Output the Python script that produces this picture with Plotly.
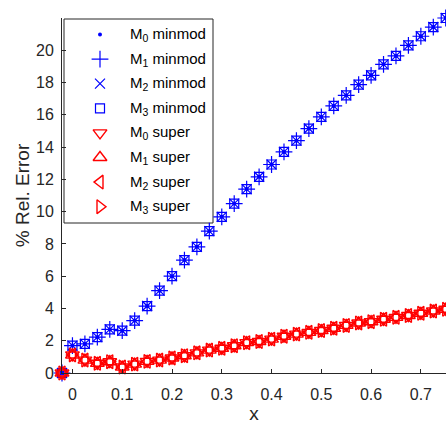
import plotly.graph_objects as go

# Sample locations (first sample sits just left of x = 0)
x_vals = [-0.021] + [0.025 * i for i in range(31)]

# Percent relative error, minmod limiter (all four methods coincide)
err_minmod = [0.0, 1.70, 1.80, 2.22, 2.70, 2.62, 3.25, 4.15, 5.10, 6.00, 7.00,
              7.82, 8.79, 9.68, 10.50, 11.40, 12.16, 12.92, 13.70, 14.40, 15.15,
              15.87, 16.55, 17.20, 17.87, 18.45, 19.13, 19.65, 20.30, 20.87,
              21.44, 22.00]

# Percent relative error, superbee limiter (all four methods coincide)
err_super = [0.0, 1.12, 0.80, 0.60, 0.70, 0.37, 0.55, 0.72, 0.80, 0.93, 1.07,
             1.25, 1.42, 1.53, 1.69, 1.88, 1.95, 2.10, 2.28, 2.41, 2.52,
             2.63, 2.77, 2.95, 3.10, 3.18, 3.33, 3.45, 3.56, 3.70, 3.84, 3.95]

methods = ["M<sub>0</sub>", "M<sub>1</sub>", "M<sub>2</sub>", "M<sub>3</sub>"]
minmod_series = [err_minmod, err_minmod, err_minmod, err_minmod]
super_series = [err_super, err_super, err_super, err_super]

x_ticks = [0, 0.1, 0.2, 0.3, 0.4, 0.5, 0.6, 0.7]
x_tick_text = ["0", "0.1", "0.2", "0.3", "0.4", "0.5", "0.6", "0.7"]
y_ticks = list(range(0, 21, 2))

BLUE = "#0000ff"
RED = "#ff0000"
AX = "#262626"
FONT = "Liberation Sans, Arial, sans-serif"

W, H = 446, 424
ML, MR, MT, MB = 62, 0, 18, 51
PW, PH = W - ML - MR, H - MT - MB

minmod_markers = [("circle", 4, 0), ("cross-thin", 12, 1.2),
                  ("x-thin", 10, 1.2), ("square-open", 9, 1.2)]
super_markers = [("triangle-down-open", 12, 1.4), ("triangle-up-open", 12, 1.4),
                 ("triangle-left-open", 12, 1.4), ("triangle-right-open", 12, 1.4)]

entries = []
for name, ys, mk in zip(methods, minmod_series, minmod_markers):
    entries.append((f"{name} minmod", ys, mk, BLUE))
for name, ys, mk in zip(methods, super_series, super_markers):
    entries.append((f"{name} super", ys, mk, RED))

fig = go.Figure()
for label, ys, (sym, sz, lw), col in entries:
    fig.add_trace(go.Scatter(
        x=x_vals, y=ys, mode="markers", name=label, showlegend=False,
        cliponaxis=False,
        marker=dict(symbol=sym, size=sz, color=col,
                    line=dict(color=col, width=lw)),
    ))

# Legend box drawn by hand (paper coordinates derived from pixel layout)
def px_x(p):
    return (p - ML) / PW


def px_y(p):
    return (H - MB - p) / PH


box_l, box_r, box_t, box_b = 64, 213, 19, 223
fig.add_shape(type="rect", xref="paper", yref="paper",
              x0=px_x(box_l), x1=px_x(box_r), y0=px_y(box_b), y1=px_y(box_t),
              line=dict(color=AX, width=1), fillcolor="white", layer="below")

row0, row_step = 34.5, 24.6
sym_x, text_x = 100, 128
for k, (label, ys, (sym, sz, lw), col) in enumerate(entries):
    ry = row0 + k * row_step
    fig.add_trace(go.Scatter(
        x=[px_x(sym_x)], y=[px_y(ry)], xaxis="x2", yaxis="y2",
        mode="markers", showlegend=False, hoverinfo="skip",
        marker=dict(symbol=sym, size=sz, color=col,
                    line=dict(color=col, width=lw)),
    ))
    fig.add_annotation(x=px_x(text_x), y=px_y(ry), xref="paper", yref="paper",
                       text=label, showarrow=False, xanchor="left",
                       yanchor="middle",
                       font=dict(family=FONT, size=15, color="black"))

axis_common = dict(ticks="inside", ticklen=4, tickcolor=AX, showgrid=False,
                   zeroline=False, showline=True, linecolor=AX, linewidth=1,
                   tickfont=dict(size=16, color=AX))

fig.update_layout(
    width=W, height=H,
    margin=dict(l=ML, r=MR, t=MT, b=MB),
    paper_bgcolor="white", plot_bgcolor="white",
    font=dict(family=FONT, size=16, color=AX),
    showlegend=False,
    xaxis=dict(range=[-0.021, 0.7505], tickmode="array",
               tickvals=x_ticks, ticktext=x_tick_text,
               ticklabelstandoff=7,
               title=dict(text="x", font=dict(size=19, color=AX), standoff=6),
               **axis_common),
    yaxis=dict(range=[0, 22], tickmode="array", tickvals=y_ticks,
               ticklabelstandoff=4,
               title=dict(text="% Rel. Error", font=dict(size=19, color=AX),
                          standoff=1),
               **axis_common),
    xaxis2=dict(range=[0, 1], overlaying="x", visible=False, fixedrange=True),
    yaxis2=dict(range=[0, 1], overlaying="y", visible=False, fixedrange=True),
)

fig.write_html("out.html")
